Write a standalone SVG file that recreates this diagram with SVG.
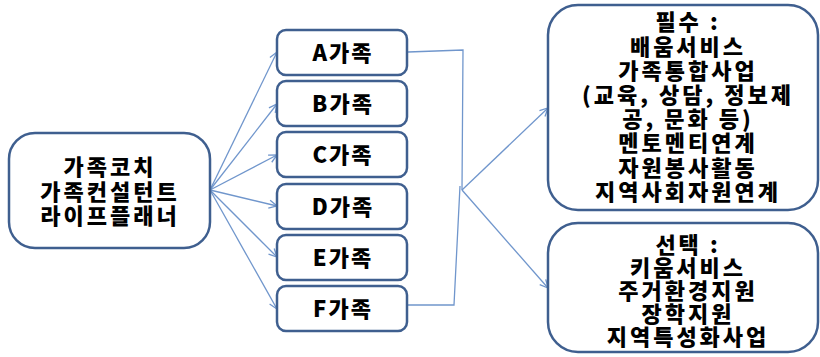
<svg xmlns="http://www.w3.org/2000/svg" width="820" height="357" viewBox="0 0 820 357">
<defs>
<style>
.box{fill:#fff;stroke:#3f5f8f;stroke-width:2.5}
.t{font-family:"Noto Sans CJK KR","Noto Sans",sans-serif;font-weight:900;fill:#000;text-anchor:middle}
.big{font-size:22px;letter-spacing:3px}
.mid{font-size:22px;letter-spacing:2px}
.c{fill:none;stroke:#7096cc;stroke-width:1.3}
</style>
<marker id="ah" markerWidth="10" markerHeight="10" refX="9" refY="5" orient="auto" markerUnits="userSpaceOnUse">
<path d="M1,1 L9,5 L1,9" fill="none" stroke="#7096cc" stroke-width="1.3"/>
</marker>
</defs>
<g id="connectors">
<line class="c" x1="210" y1="190" x2="277" y2="52" marker-end="url(#ah)"/>
<line class="c" x1="210" y1="190" x2="277" y2="104" marker-end="url(#ah)"/>
<line class="c" x1="210" y1="190" x2="277" y2="155" marker-end="url(#ah)"/>
<line class="c" x1="210" y1="190" x2="277" y2="206" marker-end="url(#ah)"/>
<line class="c" x1="210" y1="190" x2="277" y2="257" marker-end="url(#ah)"/>
<line class="c" x1="210" y1="190" x2="277" y2="309" marker-end="url(#ah)"/>
<polyline class="c" points="408,52 463,50 462,190"/>
<polyline class="c" points="408,305 454,305 460,186"/>
<line class="c" x1="462" y1="190" x2="548" y2="108" marker-end="url(#ah)"/>
<line class="c" x1="462" y1="190" x2="548" y2="288" marker-end="url(#ah)"/>
</g>
<g id="coach">
<rect class="box" x="9" y="133" width="201" height="115" rx="26"/>
<text class="t big"><tspan x="110" y="175">가족코치</tspan><tspan x="110" y="200">가족컨설턴트</tspan><tspan x="110" y="224">라이프플래너</tspan></text>
</g>
<g id="famA"><rect class="box" x="277" y="30" width="130" height="45" rx="9"/><text class="t mid" x="343" y="61">A가족</text></g>
<g id="famB"><rect class="box" x="277" y="81" width="130" height="45" rx="9"/><text class="t mid" x="343" y="112">B가족</text></g>
<g id="famC"><rect class="box" x="277" y="132" width="130" height="45" rx="9"/><text class="t mid" x="343" y="163">C가족</text></g>
<g id="famD"><rect class="box" x="277" y="184" width="130" height="45" rx="9"/><text class="t mid" x="343" y="215">D가족</text></g>
<g id="famE"><rect class="box" x="277" y="235" width="130" height="45" rx="9"/><text class="t mid" x="343" y="266">E가족</text></g>
<g id="famF"><rect class="box" x="277" y="286" width="130" height="45" rx="9"/><text class="t mid" x="343" y="317">F가족</text></g>
<g id="required">
<rect class="box" x="548" y="5" width="270" height="205" rx="30"/>
<text class="t big"><tspan x="688" y="30">필수 :</tspan><tspan x="688" y="55">배움서비스</tspan><tspan x="688" y="79">가족통합사업</tspan><tspan x="688" y="103">(교육, 상담, 정보제</tspan><tspan x="688" y="127">공, 문화 등)</tspan><tspan x="688" y="151">멘토멘티연계</tspan><tspan x="688" y="176">자원봉사활동</tspan><tspan x="688" y="200">지역사회자원연계</tspan></text>
</g>
<g id="optional">
<rect class="box" x="548" y="223" width="270" height="129" rx="30"/>
<text class="t big"><tspan x="688" y="253">선택 :</tspan><tspan x="688" y="276">키움서비스</tspan><tspan x="688" y="299">주거환경지원</tspan><tspan x="688" y="322">장학지원</tspan><tspan x="688" y="345">지역특성화사업</tspan></text>
</g>
</svg>
